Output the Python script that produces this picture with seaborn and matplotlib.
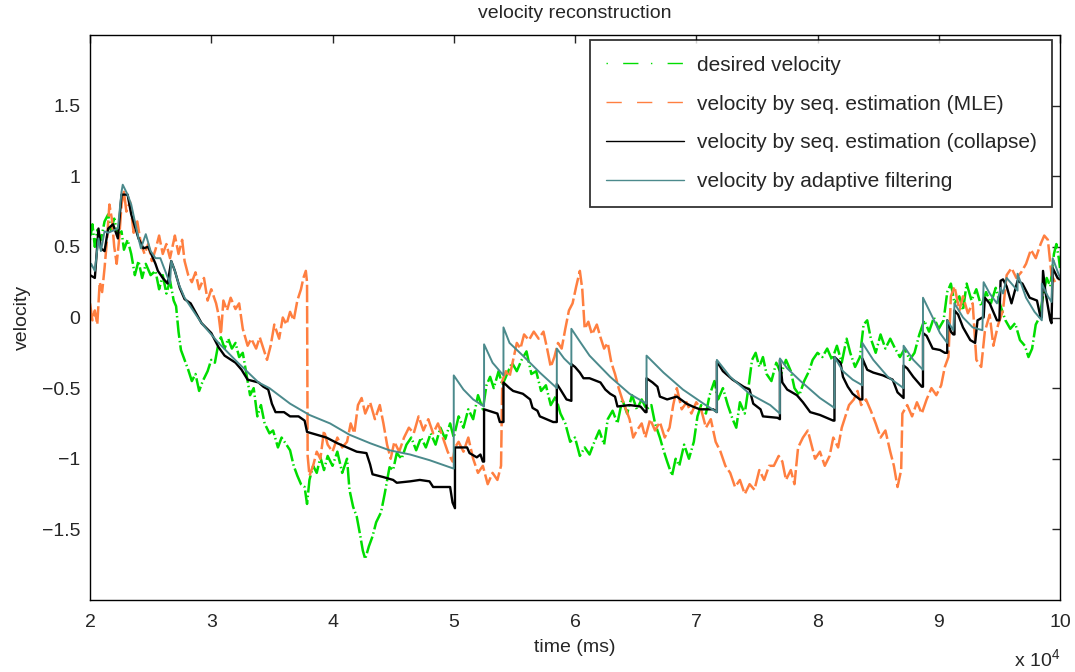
import matplotlib
matplotlib.use("Agg")
import matplotlib.pyplot as plt
import seaborn as sns

# time is in units of 1e4 ms, values are velocity
desired = [(2.00, 0.55), (2.02, 0.66), (2.04, 0.50), (2.06, 0.62), (2.09, 0.55), (2.12, 0.68), (2.15, 0.73),
           (2.17, 0.62), (2.20, 0.70), (2.23, 0.58), (2.26, 0.61), (2.28, 0.48), (2.31, 0.55), (2.34, 0.45),
           (2.37, 0.30), (2.40, 0.40), (2.43, 0.28), (2.46, 0.38), (2.50, 0.30), (2.54, 0.33), (2.57, 0.20),
           (2.60, 0.30), (2.63, 0.17), (2.66, 0.26), (2.69, 0.12), (2.71, 0.08), (2.73, -0.10), (2.75, -0.23),
           (2.78, -0.30), (2.81, -0.37), (2.84, -0.45), (2.87, -0.40), (2.90, -0.52), (2.93, -0.45), (2.97, -0.38),
           (3.00, -0.30), (3.03, -0.32), (3.06, -0.18), (3.08, -0.14), (3.11, -0.22), (3.14, -0.15), (3.17, -0.22),
           (3.20, -0.18), (3.23, -0.28), (3.26, -0.25), (3.29, -0.40), (3.32, -0.55), (3.35, -0.50), (3.38, -0.70),
           (3.41, -0.62), (3.44, -0.75), (3.48, -0.82), (3.51, -0.80), (3.55, -0.92), (3.58, -0.85), (3.62, -0.90),
           (3.65, -0.94), (3.68, -1.05), (3.71, -1.12), (3.74, -1.18), (3.77, -1.20), (3.79, -1.32), (3.81, -1.15),
           (3.84, -1.05), (3.87, -1.10), (3.90, -0.99), (3.93, -1.08), (3.96, -0.98), (4.00, -1.05), (4.04, -0.95),
           (4.08, -1.10), (4.12, -1.00), (4.14, -1.22), (4.17, -1.34), (4.20, -1.41), (4.23, -1.55), (4.25, -1.65),
           (4.27, -1.71), (4.30, -1.62), (4.33, -1.55), (4.36, -1.45), (4.40, -1.38), (4.43, -1.25), (4.47, -1.06),
           (4.50, -1.08), (4.53, -0.96), (4.57, -1.00), (4.61, -0.90), (4.65, -0.85), (4.69, -0.94), (4.73, -0.85),
           (4.77, -0.92), (4.81, -0.82), (4.85, -0.90), (4.89, -0.78), (4.93, -0.86), (4.97, -0.75), (5.00, -0.85),
           (5.04, -0.70), (5.08, -0.78), (5.12, -0.65), (5.16, -0.72), (5.20, -0.55), (5.24, -0.65), (5.27, -0.48),
           (5.30, -0.42), (5.33, -0.50), (5.37, -0.38), (5.40, -0.48), (5.44, -0.40), (5.48, -0.32), (5.52, -0.38),
           (5.56, -0.30), (5.60, -0.24), (5.64, -0.40), (5.68, -0.38), (5.72, -0.52), (5.76, -0.48), (5.80, -0.62),
           (5.84, -0.56), (5.88, -0.68), (5.92, -0.75), (5.96, -0.88), (6.00, -0.85), (6.04, -0.98), (6.08, -0.92),
           (6.12, -0.97), (6.16, -0.88), (6.20, -0.80), (6.24, -0.90), (6.27, -0.72), (6.31, -0.66), (6.35, -0.75),
           (6.39, -0.58), (6.43, -0.68), (6.47, -0.55), (6.51, -0.65), (6.55, -0.58), (6.59, -0.65), (6.63, -0.62),
           (6.66, -0.75), (6.70, -0.85), (6.73, -0.94), (6.76, -1.02), (6.80, -1.12), (6.83, -1.00), (6.86, -1.05),
           (6.90, -0.90), (6.94, -1.00), (6.98, -0.88), (7.01, -0.70), (7.04, -0.62), (7.08, -0.68), (7.11, -0.55),
           (7.15, -0.45), (7.18, -0.58), (7.22, -0.50), (7.26, -0.62), (7.30, -0.72), (7.33, -0.78), (7.36, -0.60),
           (7.40, -0.68), (7.43, -0.50), (7.46, -0.30), (7.49, -0.25), (7.52, -0.35), (7.55, -0.28), (7.58, -0.40),
           (7.62, -0.45), (7.66, -0.32), (7.70, -0.40), (7.74, -0.30), (7.78, -0.38), (7.81, -0.50), (7.85, -0.55),
           (7.89, -0.45), (7.93, -0.38), (7.96, -0.30), (8.00, -0.25), (8.04, -0.28), (8.08, -0.22), (8.12, -0.30),
           (8.16, -0.20), (8.20, -0.32), (8.24, -0.15), (8.27, -0.25), (8.31, -0.35), (8.35, -0.28), (8.38, -0.05),
           (8.41, -0.02), (8.44, -0.15), (8.48, -0.25), (8.52, -0.12), (8.56, -0.22), (8.60, -0.15), (8.64, -0.22),
           (8.68, -0.28), (8.72, -0.22), (8.76, -0.30), (8.80, -0.25), (8.84, -0.12), (8.88, -0.02), (8.92, -0.10),
           (8.96, 0.00), (9.00, -0.08), (9.04, -0.02), (9.07, 0.18), (9.10, 0.24), (9.13, 0.10), (9.17, 0.15),
           (9.20, 0.05), (9.23, 0.24), (9.27, 0.12), (9.31, 0.20), (9.35, 0.08), (9.39, 0.18), (9.43, 0.10),
           (9.47, 0.21), (9.51, 0.08), (9.55, -0.02), (9.59, -0.08), (9.63, -0.04), (9.67, -0.16), (9.71, -0.20),
           (9.74, -0.28), (9.77, -0.22), (9.80, -0.05), (9.83, 0.00), (9.86, 0.15), (9.89, 0.28), (9.92, 0.22),
           (9.95, 0.45), (9.97, 0.52), (9.99, 0.42), (10.00, 0.35)]

mle = [(2.00, 0.10), (2.02, -0.02), (2.04, 0.05), (2.06, -0.05), (2.08, 0.25), (2.10, 0.18), (2.12, 0.35),
       (2.14, 0.55), (2.16, 0.80), (2.18, 0.70), (2.20, 0.50), (2.22, 0.38), (2.24, 0.55), (2.26, 0.80),
       (2.28, 0.89), (2.30, 0.75), (2.33, 0.82), (2.36, 0.60), (2.39, 0.68), (2.42, 0.52), (2.45, 0.45),
       (2.48, 0.52), (2.51, 0.40), (2.54, 0.48), (2.57, 0.58), (2.60, 0.45), (2.63, 0.52), (2.66, 0.42),
       (2.70, 0.58), (2.73, 0.45), (2.76, 0.55), (2.78, 0.40), (2.81, 0.30), (2.84, 0.25), (2.87, 0.32),
       (2.90, 0.20), (2.94, 0.28), (2.97, 0.12), (3.00, 0.20), (3.04, 0.10), (3.06, 0.02), (3.08, -0.12),
       (3.10, 0.12), (3.13, 0.05), (3.16, 0.14), (3.20, 0.06), (3.23, 0.10), (3.26, -0.08), (3.30, -0.20),
       (3.33, -0.15), (3.37, -0.22), (3.40, -0.14), (3.43, -0.22), (3.46, -0.30), (3.49, -0.20), (3.52, -0.05),
       (3.56, -0.15), (3.59, 0.00), (3.62, -0.05), (3.65, 0.04), (3.68, -0.02), (3.71, 0.12), (3.74, 0.20),
       (3.76, 0.28), (3.78, 0.33), (3.79, 0.25), (3.795, -0.98), (3.81, -1.12), (3.84, -1.05), (3.87, -0.95),
       (3.90, -1.00), (3.93, -0.80), (3.96, -0.90), (4.00, -0.95), (4.04, -0.85), (4.08, -0.92), (4.12, -0.88),
       (4.15, -0.75), (4.18, -0.82), (4.21, -0.62), (4.24, -0.57), (4.27, -0.68), (4.31, -0.60), (4.35, -0.72),
       (4.39, -0.62), (4.42, -0.75), (4.45, -0.90), (4.48, -1.00), (4.51, -0.88), (4.55, -0.95), (4.59, -0.85),
       (4.63, -0.78), (4.67, -0.82), (4.71, -0.70), (4.75, -0.80), (4.79, -0.72), (4.83, -0.82), (4.87, -0.75),
       (4.91, -0.85), (4.95, -0.95), (4.99, -1.02), (5.01, -0.92), (5.04, -0.88), (5.08, -0.95), (5.12, -0.85),
       (5.16, -1.00), (5.20, -1.10), (5.24, -1.05), (5.28, -1.18), (5.32, -1.10), (5.36, -1.15), (5.39, -1.05),
       (5.40, -0.45), (5.43, -0.38), (5.46, -0.42), (5.49, -0.30), (5.52, -0.18), (5.55, -0.22), (5.58, -0.12),
       (5.62, -0.16), (5.66, -0.10), (5.70, -0.15), (5.74, -0.10), (5.77, -0.22), (5.80, -0.35), (5.83, -0.28),
       (5.86, -0.18), (5.89, -0.22), (5.92, -0.08), (5.95, 0.05), (5.98, 0.10), (6.01, 0.22), (6.04, 0.33),
       (6.06, 0.20), (6.08, -0.08), (6.11, -0.03), (6.14, -0.12), (6.18, -0.05), (6.21, -0.14), (6.24, -0.22),
       (6.27, -0.18), (6.30, -0.32), (6.33, -0.40), (6.36, -0.50), (6.39, -0.58), (6.42, -0.65), (6.45, -0.72),
       (6.48, -0.85), (6.51, -0.80), (6.55, -0.75), (6.58, -0.85), (6.62, -0.72), (6.66, -0.80), (6.70, -0.74),
       (6.74, -0.85), (6.78, -0.78), (6.81, -0.62), (6.84, -0.50), (6.88, -0.65), (6.92, -0.60), (6.96, -0.68),
       (7.00, -0.60), (7.04, -0.65), (7.08, -0.78), (7.12, -0.72), (7.16, -0.88), (7.20, -0.95), (7.24, -1.05),
       (7.28, -1.10), (7.32, -1.20), (7.36, -1.15), (7.40, -1.25), (7.44, -1.18), (7.48, -1.22), (7.52, -1.08),
       (7.56, -1.15), (7.60, -1.05), (7.64, -1.05), (7.68, -0.98), (7.71, -1.02), (7.74, -1.15), (7.78, -1.08),
       (7.81, -1.18), (7.84, -0.92), (7.88, -0.85), (7.92, -0.80), (7.95, -0.90), (7.98, -1.00), (8.02, -0.95),
       (8.06, -1.05), (8.10, -0.98), (8.13, -0.85), (8.17, -0.92), (8.20, -0.78), (8.23, -0.70), (8.26, -0.62),
       (8.30, -0.58), (8.33, -0.52), (8.36, -0.62), (8.40, -0.58), (8.44, -0.66), (8.48, -0.75), (8.52, -0.85),
       (8.56, -0.80), (8.60, -0.95), (8.63, -1.05), (8.66, -1.20), (8.69, -1.08), (8.70, -0.68), (8.74, -0.62),
       (8.78, -0.70), (8.82, -0.60), (8.86, -0.68), (8.90, -0.58), (8.94, -0.50), (8.98, -0.55), (9.02, -0.48),
       (9.05, -0.35), (9.08, -0.28), (9.10, 0.15), (9.13, 0.22), (9.17, 0.05), (9.20, 0.15), (9.24, 0.03),
       (9.28, 0.10), (9.31, -0.30), (9.35, -0.35), (9.38, -0.10), (9.42, 0.02), (9.45, -0.20), (9.49, -0.05),
       (9.53, 0.05), (9.56, 0.30), (9.60, 0.35), (9.64, 0.28), (9.68, 0.32), (9.72, 0.38), (9.76, 0.48),
       (9.80, 0.42), (9.84, 0.52), (9.87, 0.58), (9.90, 0.55), (9.93, 0.30), (9.96, 0.25), (10.00, 0.28)]

collapse = [(2.00, 0.30), (2.04, 0.28), (2.07, 0.63), (2.09, 0.49), (2.12, 0.47), (2.15, 0.63), (2.19, 0.66),
            (2.23, 0.56), (2.26, 0.87), (2.31, 0.87), (2.34, 0.73), (2.40, 0.56), (2.44, 0.49), (2.48, 0.50),
            (2.54, 0.38), (2.56, 0.33), (2.60, 0.28), (2.64, 0.24), (2.67, 0.40), (2.70, 0.33), (2.74, 0.21),
            (2.78, 0.13), (2.83, 0.10), (2.92, -0.04), (3.00, -0.11), (3.06, -0.21), (3.11, -0.27), (3.20, -0.32),
            (3.25, -0.37), (3.30, -0.44), (3.39, -0.46), (3.43, -0.49), (3.47, -0.51), (3.50, -0.61), (3.53, -0.67),
            (3.60, -0.67), (3.65, -0.70), (3.72, -0.70), (3.77, -0.73), (3.79, -0.81), (3.87, -0.83), (3.95, -0.85),
            (4.04, -0.89), (4.12, -0.92), (4.20, -0.95), (4.28, -0.96), (4.31, -1.04), (4.33, -1.11), (4.42, -1.13),
            (4.50, -1.15), (4.53, -1.17), (4.64, -1.16), (4.72, -1.15), (4.80, -1.16), (4.83, -1.20), (4.97, -1.20),
            (4.99, -1.31), (5.01, -1.35), (5.01, -0.92), (5.11, -0.92), (5.13, -0.96), (5.19, -0.99), (5.22, -0.97),
            (5.24, -1.02), (5.25, -1.02), (5.25, -0.65), (5.36, -0.68), (5.38, -0.74), (5.41, -0.74), (5.41, -0.46),
            (5.46, -0.50), (5.49, -0.52), (5.57, -0.54), (5.63, -0.58), (5.65, -0.64), (5.69, -0.66), (5.71, -0.70),
            (5.82, -0.74), (5.85, -0.74), (5.85, -0.47), (5.88, -0.51), (5.93, -0.58), (5.97, -0.59), (5.97, -0.33),
            (6.00, -0.35), (6.04, -0.39), (6.07, -0.43), (6.12, -0.43), (6.21, -0.46), (6.25, -0.51), (6.29, -0.54),
            (6.33, -0.56), (6.35, -0.63), (6.45, -0.62), (6.54, -0.63), (6.58, -0.67), (6.59, -0.67), (6.59, -0.43),
            (6.64, -0.46), (6.68, -0.49), (6.70, -0.56), (6.76, -0.58), (6.84, -0.56), (6.92, -0.61), (6.97, -0.63),
            (7.03, -0.65), (7.14, -0.65), (7.17, -0.67), (7.17, -0.31), (7.22, -0.38), (7.30, -0.44), (7.39, -0.49),
            (7.44, -0.51), (7.47, -0.61), (7.53, -0.65), (7.55, -0.70), (7.67, -0.71), (7.69, -0.72), (7.69, -0.30),
            (7.71, -0.46), (7.75, -0.51), (7.83, -0.55), (7.88, -0.60), (7.94, -0.67), (8.02, -0.69), (8.13, -0.73),
            (8.14, -0.73), (8.14, -0.28), (8.19, -0.32), (8.21, -0.42), (8.25, -0.49), (8.29, -0.54), (8.35, -0.58),
            (8.37, -0.58), (8.37, -0.29), (8.41, -0.37), (8.46, -0.39), (8.54, -0.41), (8.62, -0.44), (8.66, -0.53),
            (8.71, -0.57), (8.71, -0.34), (8.74, -0.36), (8.79, -0.42), (8.86, -0.49), (8.87, -0.49), (8.87, -0.11),
            (8.90, -0.13), (8.95, -0.22), (9.01, -0.23), (9.05, -0.25), (9.07, -0.25), (9.07, -0.02), (9.10, -0.10),
            (9.12, -0.12), (9.13, -0.12), (9.13, 0.05), (9.16, 0.02), (9.20, -0.07), (9.26, -0.16), (9.30, -0.18),
            (9.32, -0.02), (9.36, 0.00), (9.37, 0.00), (9.38, 0.14), (9.42, 0.10), (9.48, -0.02), (9.50, -0.02),
            (9.51, 0.26), (9.53, 0.27), (9.56, 0.22), (9.60, 0.10), (9.65, 0.26), (9.69, 0.24), (9.75, 0.14),
            (9.81, 0.12), (9.84, 0.00), (9.85, 0.00), (9.86, 0.33), (9.88, 0.18), (9.92, -0.02), (9.93, -0.04),
            (9.94, 0.35), (9.98, 0.28), (10.00, 0.27)]

adaptive = [(2.00, 0.35), (2.01, 0.38), (2.04, 0.33), (2.07, 0.56), (2.09, 0.47), (2.12, 0.61), (2.15, 0.60),
            (2.23, 0.63), (2.26, 0.89), (2.27, 0.94), (2.31, 0.87), (2.34, 0.80), (2.40, 0.56), (2.42, 0.49),
            (2.46, 0.59), (2.50, 0.47), (2.54, 0.42), (2.58, 0.42), (2.62, 0.33), (2.66, 0.24), (2.67, 0.40),
            (2.70, 0.33), (2.73, 0.24), (2.78, 0.14), (2.92, -0.04), (3.06, -0.18), (3.22, -0.32), (3.39, -0.46),
            (3.48, -0.50), (3.65, -0.61), (3.81, -0.69), (3.98, -0.75), (4.14, -0.83), (4.31, -0.89), (4.47, -0.94),
            (4.64, -0.97), (4.80, -1.01), (5.00, -1.07), (5.00, -0.41), (5.08, -0.51), (5.16, -0.58), (5.25, -0.63),
            (5.25, -0.19), (5.32, -0.32), (5.41, -0.41), (5.41, -0.07), (5.46, -0.18), (5.57, -0.27), (5.71, -0.39),
            (5.85, -0.50), (5.85, -0.22), (5.91, -0.29), (5.97, -0.34), (5.97, -0.08), (6.04, -0.17), (6.12, -0.27),
            (6.29, -0.42), (6.45, -0.54), (6.59, -0.61), (6.59, -0.27), (6.73, -0.39), (6.89, -0.51), (7.06, -0.61),
            (7.17, -0.67), (7.17, -0.30), (7.28, -0.42), (7.44, -0.54), (7.61, -0.62), (7.69, -0.68), (7.69, -0.29),
            (7.75, -0.36), (7.86, -0.45), (8.02, -0.57), (8.14, -0.64), (8.14, -0.28), (8.21, -0.38), (8.29, -0.44),
            (8.37, -0.48), (8.37, -0.18), (8.46, -0.30), (8.58, -0.42), (8.71, -0.50), (8.71, -0.20), (8.79, -0.30),
            (8.87, -0.37), (8.87, 0.14), (8.95, 0.00), (9.01, -0.11), (9.07, -0.18), (9.07, -0.02), (9.12, -0.09),
            (9.13, 0.10), (9.20, 0.00), (9.28, -0.07), (9.36, -0.09), (9.37, 0.25), (9.42, 0.17), (9.48, 0.10),
            (9.51, 0.21), (9.53, 0.17), (9.56, 0.28), (9.60, 0.24), (9.65, 0.19), (9.65, 0.31), (9.72, 0.14),
            (9.79, 0.04), (9.85, -0.02), (9.85, 0.24), (9.90, 0.15), (9.93, 0.11), (9.94, 0.42), (9.97, 0.35),
            (10.00, 0.28)]

series_names = ['desired velocity',
                'velocity by seq. estimation (MLE)',
                'velocity by seq. estimation (collapse)',
                'velocity by adaptive filtering']
series_colors = ['#00dd00', '#ff7f40', 'black', '#4b8a8c']
# noisy traces are drawn with tight dashes so they read as dense bands
series_styles = [(0, (0.6, 1.2, 7, 1.2)), (0, (7, 1.5)), '-', '-']
series_widths = [1.8, 1.8, 1.7, 1.4]
# dash patterns shown in the legend
legend_dashes = [(0, (1, 11, 11, 9)), (0, (11, 11)), '-', '-']

sns.set_theme(style='white')
plt.rcParams['font.family'] = ['Liberation Sans', 'DejaVu Sans']
plt.rcParams['mathtext.fontset'] = 'custom'
plt.rcParams['mathtext.rm'] = 'Liberation Sans'
plt.rcParams['mathtext.it'] = 'Liberation Sans:italic'

fig = plt.figure(figsize=(10.75, 6.72), dpi=100)
ax = fig.add_axes([90 / 1075, 72 / 672, 970 / 1075, 565 / 672])

for data, name, col, ls, lw in zip([desired, mle, collapse, adaptive], series_names,
                                   series_colors, series_styles, series_widths):
    t, v = zip(*data)
    sns.lineplot(x=list(t), y=list(v), ax=ax, sort=False, estimator=None,
                 color=col, linestyle=ls, linewidth=lw, label=name)

ax.set_xlim(2, 10)
ax.set_ylim(-2, 2)
ax.set_xticks(range(2, 11))
ax.set_yticks([-1.5, -1, -0.5, 0, 0.5, 1, 1.5])
ax.yaxis.set_major_formatter(matplotlib.ticker.FuncFormatter(lambda v, p: ('%g' % v).replace('-', '\u2212')))
ax.tick_params(direction='in', length=6, width=1, top=True, right=True, labelsize=14)
ax.tick_params(axis='x', pad=10)
ax.tick_params(axis='y', pad=7)
for sp in ax.spines.values():
    sp.set_visible(True)
    sp.set_color('black')
    sp.set_linewidth(1.0)

ax.set_title('velocity reconstruction', fontsize=14, pad=12)
ax.set_xlabel('time (ms)', fontsize=14, labelpad=6)
ax.set_ylabel('velocity', fontsize=14, labelpad=8)
ax.text(1.0, -0.105, r'x 10$^4$', transform=ax.transAxes, ha='right', va='center', fontsize=14)

leg = ax.legend(loc='upper right', bbox_to_anchor=(0.992, 0.991), borderaxespad=0,
                fontsize=15, handlelength=3.75, handletextpad=0.6, labelspacing=0.95,
                borderpad=0.75, fancybox=False, frameon=True)
leg.get_frame().set_edgecolor('black')
leg.get_frame().set_linewidth(1.3)
for line, dash in zip(leg.get_lines(), legend_dashes):
    line.set_linewidth(1.0)
    line.set_linestyle(dash)

fig.savefig('out.png', dpi=100)
